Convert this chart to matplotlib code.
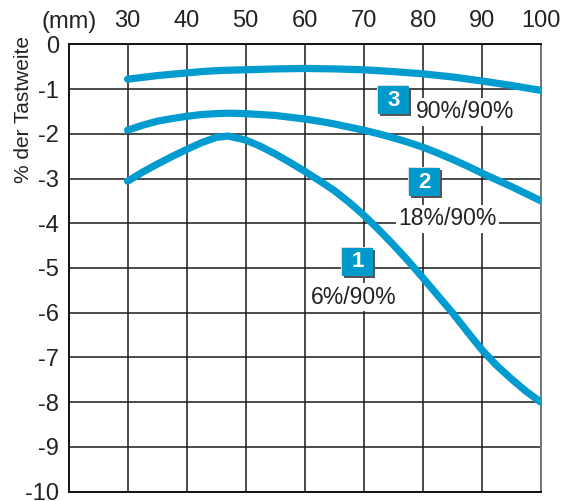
import matplotlib
matplotlib.use("Agg")
import matplotlib.pyplot as plt
from matplotlib.patches import Rectangle
from matplotlib.transforms import ScaledTranslation

plt.rcParams['font.family'] = ['Liberation Sans', 'DejaVu Sans']

# Distance (mm)
x = [30, 32.5, 35, 37.5, 40, 42.5, 45, 47, 50, 52.5, 55, 57.5, 60, 62.5, 65, 67.5, 70, 72.5, 75, 77.5,
     80, 82.5, 85, 87.5, 90, 92.5, 95, 97.5, 100]
# Curve 1: 6%/90%
c1 = [-3.06, -2.86, -2.68, -2.51, -2.35, -2.2, -2.08, -2.05, -2.14, -2.28, -2.45, -2.64, -2.84, -3.05, -3.27,
      -3.53, -3.82, -4.14, -4.48, -4.84, -5.22, -5.61, -6.0, -6.42, -6.83, -7.18, -7.48, -7.76, -8.0]
# Curve 2: 18%/90%
c2 = [-1.92, -1.81, -1.72, -1.66, -1.61, -1.57, -1.55, -1.54, -1.55, -1.57, -1.59, -1.63, -1.67, -1.72, -1.78,
      -1.85, -1.92, -2.0, -2.09, -2.19, -2.3, -2.43, -2.57, -2.72, -2.88, -3.03, -3.18, -3.34, -3.5]
# Curve 3: 90%/90%
c3 = [-0.78, -0.74, -0.70, -0.67, -0.64, -0.61, -0.59, -0.58, -0.57, -0.56, -0.55, -0.545, -0.54, -0.545, -0.55,
      -0.56, -0.57, -0.59, -0.61, -0.635, -0.66, -0.695, -0.73, -0.775, -0.82, -0.87, -0.92, -0.975, -1.03]

series = [c1, c2, c3]
box_labels = ["1", "2", "3"]
text_labels = ["6%/90%", "18%/90%", "90%/90%"]
box_pos = [(69.0, -4.86), (80.3, -3.08), (75.1, -1.245)]
text_pos = [(61.0, -5.65), (75.8, -3.90), (78.8, -1.51)]

xticks = [30, 40, 50, 60, 70, 80, 90, 100]
yticks = [0, -1, -2, -3, -4, -5, -6, -7, -8, -9, -10]

blue = "#009ccf"
box_blue = "#0099cc"
txt = "#222222"

fig = plt.figure(figsize=(5.61, 5.01), dpi=100)
ax = fig.add_axes([68.5/561, 1 - 491.7/501, (541 - 68.5)/561, (491.7 - 44.3)/501])
ax.set_xlim(20, 100)
ax.set_ylim(-10, 0)
ax.set_xticks(xticks)
ax.set_yticks(yticks)
ax.set_xticklabels([str(v) for v in xticks])
ax.set_yticklabels([str(v) for v in yticks])
ax.xaxis.tick_top()
ax.tick_params(axis='x', length=0, pad=9, labelsize=17, colors=txt)
ax.tick_params(axis='y', length=0, pad=7, labelsize=17, colors=txt)
ax.grid(True, color="#1a1a1a", lw=1.1)
ax.set_axisbelow(True)
for s in ax.spines.values():
    s.set_color("#111111")
    s.set_linewidth(1.4)
ax.spines['right'].set_color("#777777")

for ys in series:
    ax.plot(x, ys, color=blue, lw=5.2, solid_capstyle='round', solid_joinstyle='round', zorder=3)

ax.set_ylabel("% der Tastweite", fontsize=15, color=txt)
ax.yaxis.set_label_coords(-0.075, 0.855)
fig.text(69.5/561, 1 - 22/501, "(mm)", fontsize=17, color=txt, ha='center', va='center')

w, h = 0.31, 0.28
for (bx, by), lab in zip(box_pos, box_labels):
    tr = fig.dpi_scale_trans + ScaledTranslation(bx, by, ax.transData)
    ax.add_patch(Rectangle((-w/2 - 0.012, -h/2 + 0.012), w, h, transform=tr, facecolor="#dddddd", edgecolor='none', zorder=5, clip_on=False))
    ax.add_patch(Rectangle((-w/2 + 0.02, -h/2 - 0.02), w, h, transform=tr, facecolor="#555555", edgecolor='none', zorder=5, clip_on=False))
    ax.add_patch(Rectangle((-w/2, -h/2), w, h, transform=tr, facecolor=box_blue, edgecolor='none', zorder=6, clip_on=False))
    ax.text(bx, by, lab, color='white', fontsize=16, fontweight='bold', ha='center', va='center', zorder=7)

for (tx, ty), lab in zip(text_pos, text_labels):
    ax.text(tx, ty, lab, color=txt, fontsize=16.5, ha='left', va='center', zorder=4,
            bbox=dict(boxstyle='square,pad=0.1', facecolor='white', edgecolor='none'))

fig.savefig("out.png", dpi=100)
